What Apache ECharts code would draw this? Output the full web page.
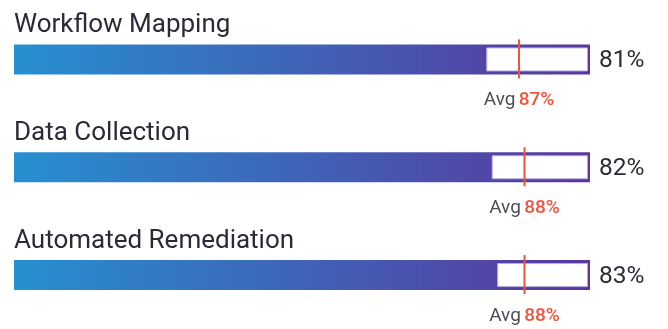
<!DOCTYPE html>
<html>
<head>
<meta charset="utf-8">
<script src="https://cdn.jsdelivr.net/npm/echarts@6/dist/echarts.min.js"></script>
<style>
html,body{margin:0;padding:0;background:#fff;}
#chart{width:668px;height:329px;}
</style>
</head>
<body>
<div id="chart"></div>
<script>
var categories = ['Workflow Mapping', 'Data Collection', 'Automated Remediation'];
var values = [81, 82, 83];
var averages = [87, 88, 88];
var axisMin = -5.5;
var axisMax = 100;

var chart = echarts.init(document.getElementById('chart'), null, {renderer: 'canvas'});
var FONT = 'Roboto, "Noto Sans", sans-serif';

var data = categories.map(function (c, i) { return [values[i], i, averages[i]]; });

function renderItem(params, api) {
  var i = api.value(1);
  var v = api.value(0);
  var avg = api.value(2);
  var p0 = api.coord([axisMin, i]);
  var pv = api.coord([v, i]);
  var pMax = api.coord([axisMax, i]);
  var pAvg = api.coord([avg, i]);
  var cy = p0[1];
  var h = 30;
  var top = cy - h / 2;
  var grad = new echarts.graphic.LinearGradient(0, 0, 1, 0, [
    {offset: 0, color: '#2690d0'},
    {offset: 1, color: '#5a369d'}
  ]);
  return {
    type: 'group',
    children: [
      {type: 'text', style: {text: categories[i], x: p0[0], y: top - 19, font: '400 26px ' + FONT, fill: '#2b2b38', align: 'left', verticalAlign: 'middle'}},
      {type: 'rect', shape: {x: p0[0], y: top, width: pMax[0] - p0[0], height: h}, style: {fill: grad}},
      {type: 'rect', shape: {x: pv[0] + 0.5, y: top + 3.5, width: pMax[0] - pv[0] - 3, height: h - 7}, style: {fill: '#ffffff', stroke: '#b9addf', lineWidth: 1}},
      {type: 'line', shape: {x1: pAvg[0], y1: top - 5, x2: pAvg[0], y2: top + h + 4}, style: {stroke: '#f4523b', lineWidth: 2}},
      {type: 'text', style: {text: v + '%', x: pMax[0] + 9, y: cy + 1.5, font: '400 24.5px ' + FONT, fill: '#2b2b36', align: 'left', verticalAlign: 'middle'}},
      {type: 'text', style: {
        text: '{a|Avg} {b|' + avg + '%}', x: pAvg[0], y: top + h + 26, align: 'center', verticalAlign: 'middle',
        rich: {
          a: {font: '400 19px ' + FONT, fill: '#4d4d55'},
          b: {font: '500 19px ' + FONT, fill: '#f4523b'}
        }
      }}
    ]
  };
}

chart.setOption({
  animation: false,
  grid: {left: 14, right: 78, top: 5.5, height: 330},
  xAxis: {type: 'value', min: axisMin, max: axisMax, show: false},
  yAxis: {type: 'category', data: categories, inverse: true, show: false},
  series: [{
    type: 'custom',
    renderItem: renderItem,
    encode: {x: 0, y: 1},
    data: data,
    clip: false
  }]
});
</script>
</body>
</html>
